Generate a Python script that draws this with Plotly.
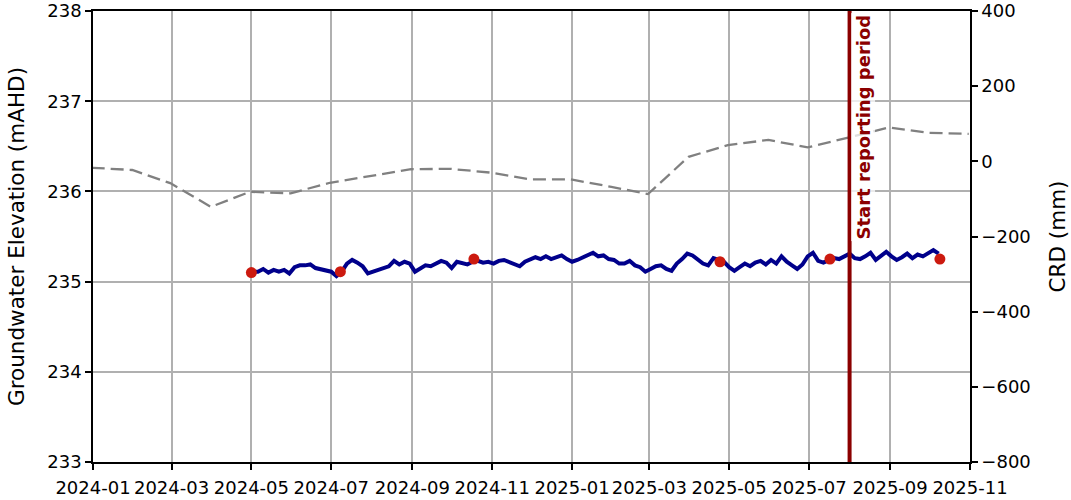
import pandas as pd
import plotly.graph_objects as go

# Logger groundwater elevation (mAHD), sampled every 4 days from 2024-05-02
logger_start = "2024-05-02"
logger_step_days = 4
logger_elev = [
    235.11, 235.11, 235.14, 235.10, 235.13, 235.11, 235.13, 235.09, 235.16, 235.18,
    235.18, 235.19, 235.15, 235.14, 235.13, 235.11, 235.06, 235.11, 235.20, 235.24,
    235.21, 235.17, 235.09, 235.11, 235.13, 235.14, 235.17, 235.23, 235.19, 235.22,
    235.20, 235.11, 235.15, 235.18, 235.17, 235.20, 235.23, 235.21, 235.15, 235.22,
    235.20, 235.19, 235.22, 235.23, 235.21, 235.22, 235.20, 235.23, 235.24, 235.22,
    235.20, 235.17, 235.22, 235.25, 235.27, 235.25, 235.28, 235.25, 235.27, 235.29,
    235.25, 235.22, 235.24, 235.27, 235.29, 235.32, 235.28, 235.29, 235.25, 235.24,
    235.20, 235.20, 235.23, 235.18, 235.16, 235.11, 235.14, 235.17, 235.18, 235.14,
    235.12, 235.20, 235.25, 235.31, 235.29, 235.24, 235.20, 235.18, 235.26, 235.24,
    235.22, 235.16, 235.12, 235.16, 235.20, 235.17, 235.21, 235.23, 235.19, 235.24,
    235.20, 235.28, 235.22, 235.18, 235.14, 235.19, 235.28, 235.32, 235.23, 235.21,
    235.23, 235.26, 235.25, 235.28, 235.31, 235.26, 235.25, 235.28, 235.32, 235.24,
    235.28, 235.33, 235.28, 235.24, 235.27, 235.31, 235.26, 235.30, 235.28, 235.32,
    235.35, 235.31,
]
logger_dates = pd.date_range(logger_start, periods=len(logger_elev),
                             freq=f"{logger_step_days}D")

# Manual dip measurements
manual_dates = ["2024-05-01", "2024-07-08", "2024-10-18",
                "2025-04-24", "2025-07-17", "2025-10-09"]
manual_elev = [235.10, 235.11, 235.25, 235.22, 235.25, 235.25]

# Cumulative rainfall departure (mm), month end
crd_dates = ["2023-12-31", "2024-01-31", "2024-02-29", "2024-03-31", "2024-04-30",
             "2024-05-31", "2024-06-30", "2024-07-31", "2024-08-31", "2024-09-30",
             "2024-10-31", "2024-11-30", "2024-12-31", "2025-01-31", "2025-02-28",
             "2025-03-31", "2025-04-30", "2025-05-31", "2025-06-30", "2025-07-31",
             "2025-08-31", "2025-09-30", "2025-10-31"]
crd_mm = [-17, -23, -58, -121, -81, -85, -57, -40, -21, -20, -30, -48, -48,
          -68, -87, 12, 43, 57, 37, 63, 90, 76, 73]

reporting_start = "2025-08-01"
reporting_label = "Start reporting period"

FONT = "DejaVu Sans"
GRID = "#b0b0b0"
TICK_SIZE = 18
TITLE_SIZE = 21.5

fig = go.Figure()

fig.add_trace(go.Scatter(
    x=crd_dates, y=crd_mm, yaxis="y2", mode="lines",
    line=dict(color="#808080", width=2.3, dash="13px,6px"),
    showlegend=False,
))
fig.add_trace(go.Scatter(
    x=logger_dates, y=logger_elev, mode="lines",
    line=dict(color="#00008b", width=4),
    showlegend=False,
))
fig.add_trace(go.Scatter(
    x=manual_dates, y=manual_elev, mode="markers",
    marker=dict(color="#cc1a0f", size=11),
    showlegend=False,
))

fig.add_shape(type="line", x0=reporting_start, x1=reporting_start,
              xref="x", yref="paper", y0=0, y1=1,
              line=dict(color="#8b0000", width=4), layer="above")
fig.add_annotation(
    x=reporting_start, xref="x", y=1, yref="paper",
    text=f"<b>{reporting_label}</b>", textangle=-90,
    xanchor="left", yanchor="top", xshift=1, yshift=-2,
    showarrow=False, font=dict(family=FONT, size=18, color="#8b0000"),
    bgcolor="rgba(255,255,255,0.75)", borderpad=1,
)

axis_common = dict(
    showline=True, linecolor="black", linewidth=1.5,
    ticks="outside", ticklen=6, tickwidth=1.5, tickcolor="black",
    tickfont=dict(size=TICK_SIZE), zeroline=False, automargin=False,
)

fig.update_layout(
    width=1071, height=500,
    margin=dict(l=93, r=101, t=11, b=38),
    paper_bgcolor="white", plot_bgcolor="white",
    font=dict(family=FONT, size=TICK_SIZE, color="black"),
    xaxis=dict(
        type="date", range=["2024-01-01", "2025-11-01"],
        dtick="M2", tick0="2024-01-01", tickformat="%Y-%m",
        showgrid=True, gridcolor=GRID, gridwidth=1.5, mirror=True,
        ticklabelstandoff=3,
        **axis_common,
    ),
    yaxis=dict(
        range=[233, 238], dtick=1,
        title=dict(text="Groundwater Elevation (mAHD)", font=dict(size=TITLE_SIZE),
                   standoff=17),
        showgrid=True, gridcolor=GRID, gridwidth=1.5,
        **axis_common,
    ),
    yaxis2=dict(
        range=[-800, 400], dtick=200, overlaying="y", side="right",
        title=dict(text="CRD (mm)", font=dict(size=TITLE_SIZE), standoff=20),
        showgrid=False,
        **axis_common,
    ),
)

fig.write_html("out.html")
